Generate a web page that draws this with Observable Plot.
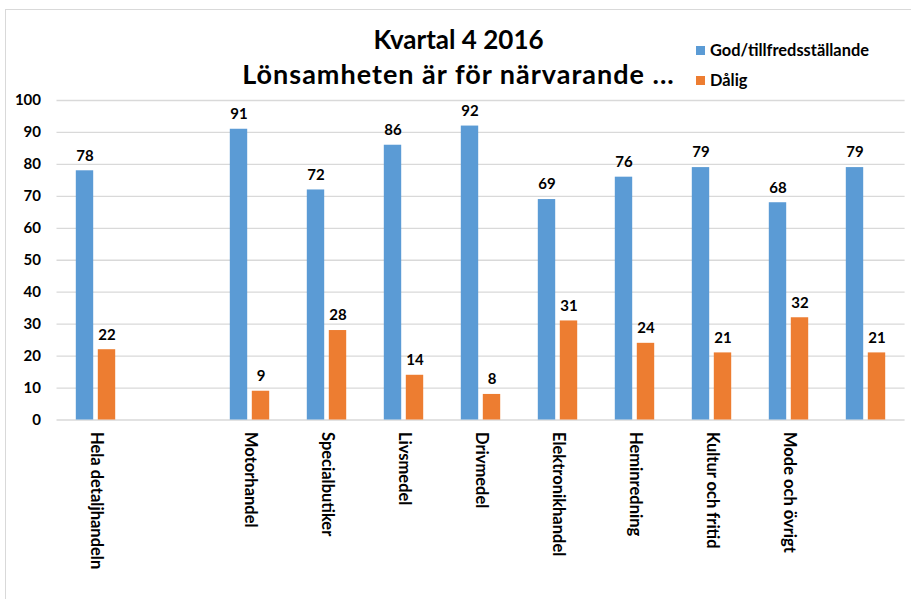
<!DOCTYPE html>
<html>
<head>
<meta charset="utf-8">
<script src="https://cdn.jsdelivr.net/npm/d3@7"></script>
<script src="https://cdn.jsdelivr.net/npm/@observablehq/plot@0.6"></script>
<style>
  html, body { margin: 0; padding: 0; background: #fff; }
  #wrap { position: relative; width: 911px; height: 599px; overflow: hidden; font-family: Lato, sans-serif; }
  #frame { position: absolute; left: 5px; top: 9px; width: 1000px; height: 1000px; border: 1px solid #d9d9d9; box-sizing: border-box; }
  #chart { position: absolute; left: 0; top: 0; }
  .title { position: absolute; left: 0; width: 917px; text-align: center; font-weight: bold; color: #000; line-height: 1; white-space: nowrap; }
  .leg { position: absolute; left: 696px; font-weight: bold; font-size: 16.4px; color: #000; line-height: 1; white-space: nowrap; }
  .leg span.sw { display: inline-block; width: 9px; height: 9px; margin-right: 5px; vertical-align: 1px; }
</style>
</head>
<body>
<div id="wrap">
  <div id="frame"></div>
  <div id="chart"></div>
  <div class="title" style="top:26px; font-size:26px">Kvartal 4 2016</div>
  <div class="title" style="top:60px; font-size:27px; letter-spacing:1px">Lönsamheten är för närvarande ...</div>
  <div class="leg" style="top:41.5px"><span class="sw" style="background:#5B9BD5"></span>God/tillfredsställande</div>
  <div class="leg" style="top:72px"><span class="sw" style="background:#ED7D31"></span>Dålig</div>
</div>
<script>
const categories = ["Hela detaljhandeln", "", "Motorhandel", "Specialbutiker", "Livsmedel", "Drivmedel", "Elektronikhandel", "Heminredning", "Kultur och fritid", "Mode och övrigt", ""];
const god = [78, null, 91, 72, 86, 92, 69, 76, 79, 68, 79];
const dalig = [22, null, 9, 28, 14, 8, 31, 24, 21, 32, 21];
const yTicks = [0, 10, 20, 30, 40, 50, 60, 70, 80, 90, 100];

const blue = "#5B9BD5", orange = "#ED7D31";
const rowsGod = categories.map((c, i) => ({i, v: god[i]})).filter(d => d.v != null);
const rowsDalig = categories.map((c, i) => ({i, v: dalig[i]})).filter(d => d.v != null);

const wide = 40.8, narrow = 18.8;
const chart = Plot.plot({
  width: 911,
  height: 599,
  marginTop: 100,
  marginBottom: 179.5,
  marginLeft: 56.5,
  marginRight: 6.4,
  style: {fontFamily: 'Lato, sans-serif', fontSize: "15px", fontWeight: "bold", color: "#000", background: "transparent"},
  x: {type: "band", domain: d3.range(categories.length), padding: 0, label: null},
  y: {domain: [0, 100], label: null},
  marks: [
    Plot.gridY(yTicks, {stroke: "#d9d9d9", strokeOpacity: 1, strokeWidth: 1.3}),
    Plot.axisY(yTicks, {tickSize: 0, tickPadding: 16, label: null, fontSize: 15, fill: "#000"}),
    Plot.axisX({tickSize: 0, tickPadding: 12, tickRotate: 90, tickFormat: i => categories[i], label: null, fontSize: 16.5, fill: "#000"}),
    Plot.barY(rowsGod, {x: "i", y: "v", fill: blue, insetLeft: narrow, insetRight: wide}),
    Plot.barY(rowsDalig, {x: "i", y: "v", fill: orange, insetLeft: wide, insetRight: narrow}),
    Plot.text(rowsGod, {x: "i", y: "v", text: "v", dx: -11, dy: -15, fontSize: 15, fontWeight: "bold", fill: "#000"}),
    Plot.text(rowsDalig, {x: "i", y: "v", text: "v", dx: 11, dy: -15, fontSize: 15, fontWeight: "bold", fill: "#000"})
  ]
});
document.getElementById("chart").appendChild(chart);
</script>
</body>
</html>
